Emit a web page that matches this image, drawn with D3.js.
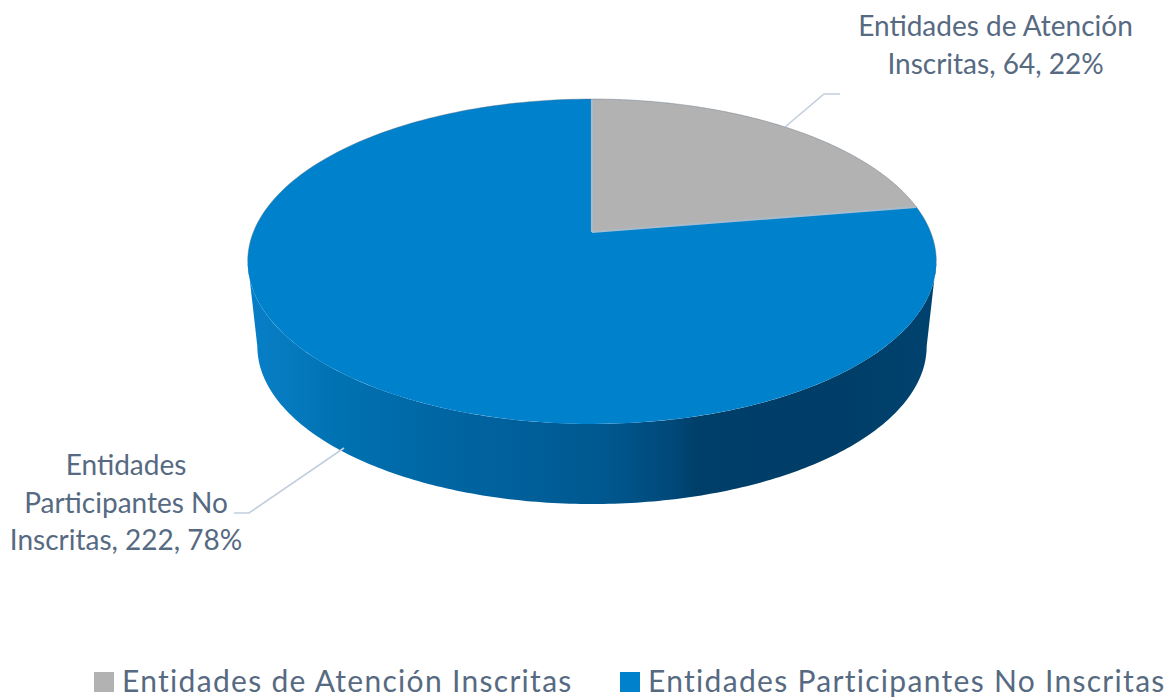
<!DOCTYPE html>
<html><head><meta charset="utf-8">
<script src="https://cdn.jsdelivr.net/npm/d3@7"></script>
<style>html,body{margin:0;padding:0;background:#fff}svg{display:block}</style></head>
<body><svg id="c" width="1167" height="698"></svg>
<script>
const categories = ["Entidades de Atención Inscritas", "Entidades Participantes No Inscritas"];
const values = [64, 222];
const percents = ["22%", "78%"];
const colors = ["#b2b2b2", "#0081cc"];
const labelLines = [["Entidades de Atención", "Inscritas, 64, 22%"], ["Entidades", "Participantes No", "Inscritas, 222, 78%"]];
const textColor = "#566a82";
const font = "Lato,'Open Sans',sans-serif";

const svg = d3.select("#c");
const arcs = d3.pie().sort(null).value(d => d)(values);

// Perspective projection of the pie plane
const k = 0.1815, cx = 592;
const project = (t, scale, apexY) => {
  const w = 1 + k * Math.cos(t);
  return [cx + scale * 338.6 * Math.sin(t) / w, apexY - scale * 157.1 * Math.cos(t) / w];
};
const topPt = t => project(t, 1, 232);
const botPt = t => project(t, 0.972, 317.5);
const line = d3.line();
const sample = (a, b, f) => d3.range(0, 201).map(i => f(a + (b - a) * i / 200));

// Side wall
const tang = Math.acos(-k);
const wall = sample(tang, 2 * Math.PI - tang, topPt).concat(sample(2 * Math.PI - tang, tang, botPt));
const defs = svg.append("defs");
const grad = defs.append("linearGradient").attr("id", "wall").attr("gradientUnits", "userSpaceOnUse")
  .attr("x1", 247).attr("x2", 936).attr("y1", 0).attr("y2", 0);
[[0, "#067fc8"], [0.06, "#067abf"], [0.13, "#0072b2"], [0.25, "#0068a6"], [0.4, "#005f9a"], [0.52, "#00588f"], [0.62, "#004878"], [0.65, "#003f6a"], [0.85, "#003e68"], [1, "#00426f"]]
  .forEach(([o, c]) => grad.append("stop").attr("offset", o).attr("stop-color", c));
svg.append("path").attr("d", line(wall) + "Z").attr("fill", "url(#wall)");

// Top face
svg.selectAll("path.slice").data(arcs).join("path").attr("class", "slice")
  .attr("d", d => line([[cx, 232]].concat(sample(d.startAngle, d.endAngle, topPt))) + "Z")
  .attr("fill", (d, i) => colors[i]);

// Boundary highlights between slices
svg.selectAll("path.edge").data(arcs).join("path").attr("class", "edge")
  .attr("d", d => line([[cx, 232], topPt(d.endAngle)]))
  .attr("fill", "none").attr("stroke", "#a9bbcb").attr("stroke-width", 2.2);

// Thin rim on the back half of the top face
svg.append("path").attr("d", line(sample(-tang, tang, topPt)))
  .attr("fill", "none").attr("stroke", "#5a6b7c").attr("stroke-opacity", 0.4).attr("stroke-width", 1);

// Leader lines
const leaders = [[[785, 127], [824, 94], [840, 94]], [[344, 448], [249, 513], [234, 513]]];
svg.selectAll("path.leader").data(leaders).join("path").attr("class", "leader")
  .attr("d", d => line(d)).attr("fill", "none").attr("stroke", "#c3cede").attr("stroke-width", 1.6);

// Data labels
const labelPos = [[995.5, 36, 38], [126, 475, 37.5]];
labelLines.forEach((lines, i) => {
  const t = svg.append("text").attr("text-anchor", "middle").attr("fill", textColor)
    .attr("font-family", font).attr("font-size", 28);
  lines.forEach((s, j) => t.append("tspan").attr("x", labelPos[i][0]).attr("y", labelPos[i][1] + j * labelPos[i][2]).text(s));
});

// Legend
const legendSwatchX = [94, 620], legendTextX = [122, 648];
categories.forEach((c, i) => {
  svg.append("rect").attr("x", legendSwatchX[i]).attr("y", 672).attr("width", 20).attr("height", 20).attr("fill", colors[i]);
  svg.append("text").attr("x", legendTextX[i]).attr("y", 691.5).attr("fill", textColor)
    .attr("font-family", font).attr("font-size", 30).attr("letter-spacing", 1.3).text(c);
});
</script></body></html>
